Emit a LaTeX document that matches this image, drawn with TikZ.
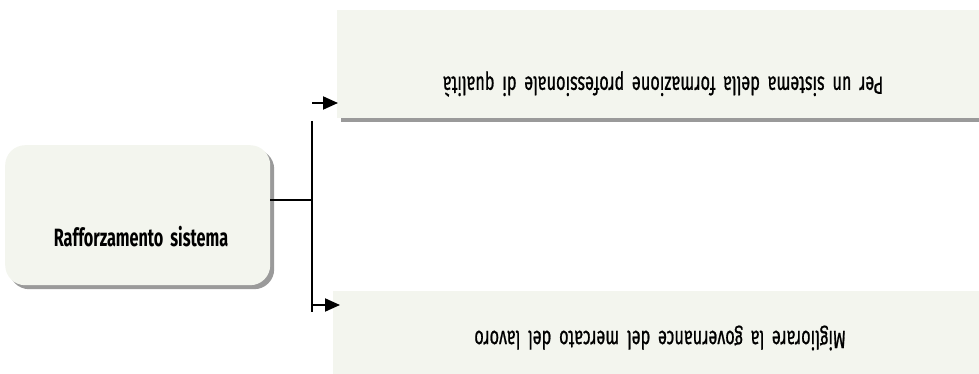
\documentclass[tikz,border=0pt]{standalone}
\usepackage{fontspec}
\usetikzlibrary{shadows,arrows.meta}
\newfontfamily\labelfont[FakeStretch=0.65,WordSpace=1.8]{Fira Sans}
\newfontfamily\leaflabelfont[FakeStretch=0.65,WordSpace=1.8,FakeBold=0.8]{Fira Sans}
\definecolor{boxfill}{HTML}{F3F5EE}
\definecolor{shadowgray}{HTML}{9A9A9A}
\begin{document}
\begin{tikzpicture}[x=1pt,y=-1pt,
  panel/.style={fill=boxfill, draw=none, inner sep=0pt, anchor=north west},
  shadowed/.style={drop shadow={shadow xshift=4pt,shadow yshift=-4pt,fill=shadowgray,opacity=1}},
  rootfont/.style={font=\labelfont\bfseries\fontsize{25}{29}\selectfont},
  leaffont/.style={font=\leaflabelfont\fontsize{25}{29}\selectfont, rotate=180},
  conn/.style={line width=2pt, black},
  arrowline/.style={conn, -{Triangle[length=15pt,width=13pt]}}]
\useasboundingbox (0,0) rectangle (979,374);
% root box
\node[panel, shadowed, rounded corners=20pt, minimum width=265pt, minimum height=140pt] (root) at (5,145) {};
\node[rootfont] (rootlabel) at (141,237) {Rafforzamento sistema};
% target panels (text printed upside down)
\node[panel, shadowed, minimum width=650pt, minimum height=108pt] (top) at (337,10) {};
\node[leaffont] (toplabel) at (663,84) {Per un sistema della formazione professionale di qualità};
\node[panel, minimum width=650pt, minimum height=90pt] (bot) at (333,291) {};
\node[leaffont] (botlabel) at (660,338) {Migliorare la governance del mercato del lavoro};
% connectors
\coordinate (j) at (312,200);
\coordinate (vt) at (312,121);
\coordinate (vb) at (312,312);
\coordinate (a1) at (312,103);
\coordinate (a2) at (312,305);
\draw[conn] (root.east |- j) -- (j);
\draw[conn] (vt) -- (vb);
\draw[arrowline] (a1) -- ([xshift=1pt]top.west |- a1);
\draw[arrowline] (a2) -- ([xshift=7pt]bot.west |- a2);
\end{tikzpicture}
\end{document}
